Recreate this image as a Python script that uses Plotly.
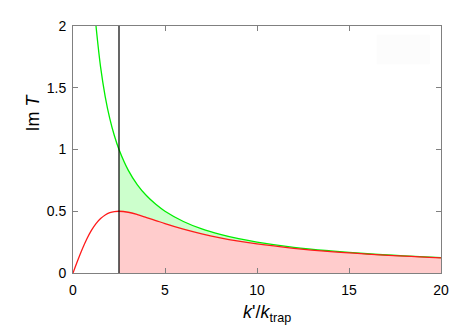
import plotly.graph_objects as go

# Im T vs k'/k_trap
k_red = [0, 0.25, 0.5, 0.75, 1, 1.25, 1.5, 1.75, 2, 2.25, 2.5, 3, 3.5, 4, 4.5,
         5, 6, 7, 8, 9, 10, 12, 14, 16, 18, 20]
im_red = [0, 0.099, 0.192, 0.275, 0.345, 0.400, 0.441, 0.470, 0.488, 0.497, 0.500,
          0.492, 0.473, 0.449, 0.425, 0.400, 0.355, 0.317, 0.285, 0.258, 0.235,
          0.200, 0.173, 0.153, 0.136, 0.123]

k_green = [1.25, 1.5, 1.75, 2, 2.25, 2.5, 3, 3.5, 4, 4.5, 5, 6, 7, 8, 9, 10,
           12, 14, 16, 18, 20]
im_green = [2.0, 1.667, 1.429, 1.25, 1.111, 1.0, 0.833, 0.714, 0.625, 0.556, 0.5,
            0.417, 0.357, 0.313, 0.278, 0.25, 0.208, 0.179, 0.156, 0.139, 0.125]

K_CUT = 2.5

fig = go.Figure()

# shaded areas right of the cut
red_fx = [k for k in k_red if k >= K_CUT]
red_fy = [y for k, y in zip(k_red, im_red) if k >= K_CUT]
green_fy = [y for k, y in zip(k_green, im_green) if k >= K_CUT]

fig.add_trace(go.Scatter(x=red_fx, y=red_fy, mode="lines", line=dict(width=0, shape="spline"),
                         fill="tozeroy", fillcolor="#ffcccc", hoverinfo="skip"))
fig.add_trace(go.Scatter(x=red_fx, y=green_fy, mode="lines", line=dict(width=0, shape="spline"),
                         fill="tonexty", fillcolor="#ccffcc", hoverinfo="skip"))

# curves
fig.add_trace(go.Scatter(x=k_green, y=im_green, mode="lines",
                         line=dict(color="#00ee00", width=1.3, shape="spline")))
fig.add_trace(go.Scatter(x=k_red, y=im_red, mode="lines",
                         line=dict(color="#ff1a1a", width=1.3, shape="spline")))

fig.add_shape(type="line", x0=K_CUT, x1=K_CUT, y0=0, y1=2, xref="x", yref="y",
              line=dict(color="black", width=1.2))

# faint empty key box
fig.add_shape(type="rect", xref="paper", yref="paper", x0=0.825, x1=0.97, y0=0.845, y1=0.965,
              line=dict(width=0), fillcolor="#fcfcfc", layer="below")

# axis titles (placed like the gnuplot original, not centred)
fig.add_annotation(text="Im <i>T</i>", xref="paper", yref="paper", x=0, y=0.65,
                   xshift=-40, xanchor="center", yanchor="middle", textangle=-90,
                   showarrow=False, font=dict(size=18))
fig.add_annotation(text="<i>k</i>'/<i>k</i><sub>trap</sub>", xref="paper", yref="paper",
                   x=0.526, y=0, yshift=-40, xanchor="center", yanchor="middle",
                   showarrow=False, font=dict(size=18))

axis_style = dict(
    showline=True, linecolor="#808080", linewidth=1, mirror="ticks",
    ticks="inside", ticklen=5, tickcolor="#808080", showgrid=False, zeroline=False,
    tickfont=dict(size=14, color="black"),
)

# page has an 8px body margin, so the figure is shrunk by that much
fig.update_layout(
    width=460, height=319,
    margin=dict(l=65, r=27, t=10, b=54),
    paper_bgcolor="white", plot_bgcolor="white",
    font=dict(family="Liberation Sans, Arial, sans-serif", color="black"),
    showlegend=False,
    xaxis=dict(range=[0, 20], dtick=5, ticklabelstandoff=4, **axis_style),
    yaxis=dict(range=[0, 2], dtick=0.5, ticklabelstandoff=3, **axis_style),
)

fig.write_html("out.html")
